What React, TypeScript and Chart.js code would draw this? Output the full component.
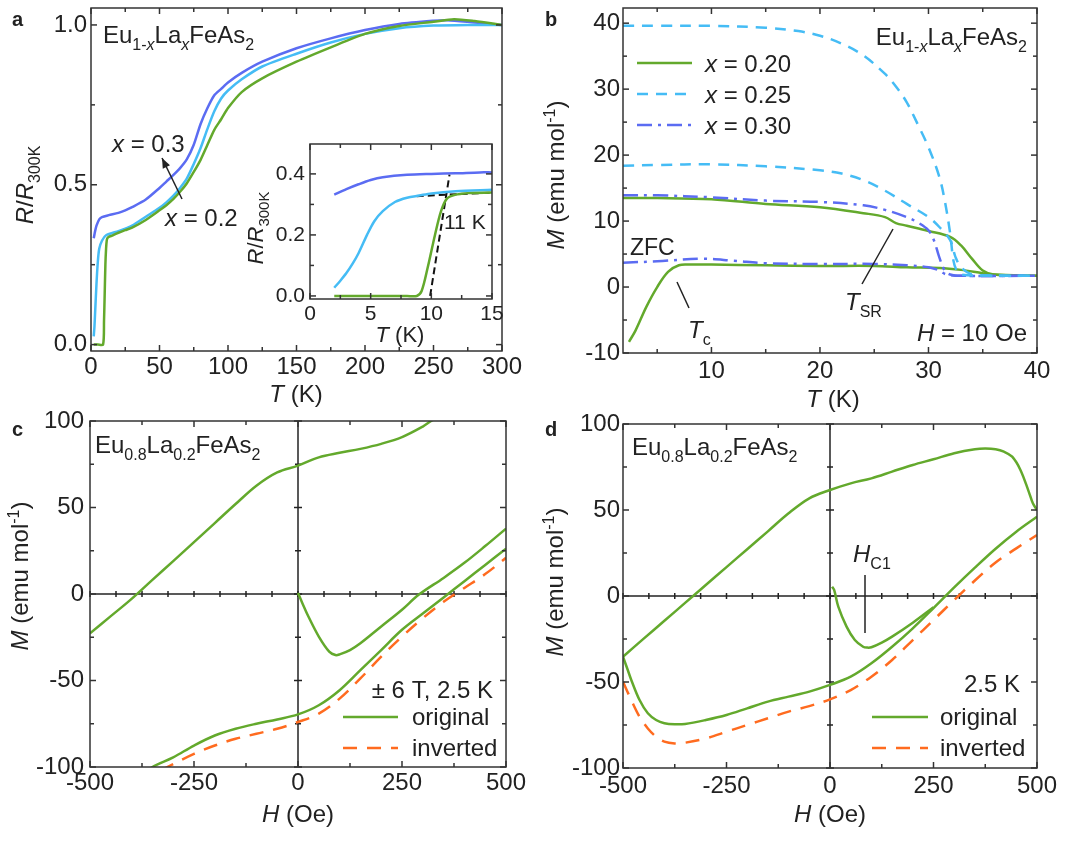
import React, { useEffect, useRef } from "react";
import { Chart, registerables } from "chart.js";
Chart.register(...registerables);

const W = 1080;
const H = 841;
const FONT = '"Liberation Sans", Arial, Helvetica, sans-serif';
const INK = "#222";
const GREEN = "#63a92c";
const LBLUE = "#45bcf5";
const BLUE = "#5b6cf2";
const ORANGE = "#ff6b1f";

// ---------------- Panel a: R/R300K vs T ----------------
const aT_x030 = [2, 3, 4, 6, 8, 13, 20, 25, 30, 40, 50, 55, 60, 65, 70, 75, 80, 85, 90, 95, 100, 110, 125, 150, 175, 200, 225, 250, 260, 275, 290, 300];
const aR_x030 = [0.333, 0.355, 0.372, 0.392, 0.399, 0.405, 0.412, 0.42, 0.43, 0.454, 0.49, 0.51, 0.53, 0.552, 0.58, 0.625, 0.69, 0.74, 0.78, 0.8, 0.82, 0.85, 0.885, 0.927, 0.958, 0.984, 1.003, 1.013, 1.015, 1.01, 1.003, 1.0];
const aT_x025 = [2, 2.5, 3, 4, 5, 6, 8, 11, 20, 25, 30, 40, 50, 55, 60, 65, 70, 75, 80, 85, 90, 95, 100, 110, 125, 150, 175, 200, 225, 250, 275, 300];
const aR_x025 = [0.026, 0.055, 0.1, 0.19, 0.26, 0.3, 0.325, 0.342, 0.355, 0.363, 0.372, 0.4, 0.428, 0.445, 0.465, 0.49, 0.52, 0.565, 0.615, 0.675, 0.73, 0.77, 0.795, 0.83, 0.87, 0.91, 0.945, 0.972, 0.99, 0.998, 1.0, 1.0];
const aT_x020 = [2, 5, 8.8, 9.5, 10, 10.5, 11, 11.5, 12, 13, 15, 20, 25, 30, 40, 50, 55, 60, 65, 70, 75, 80, 85, 90, 95, 100, 110, 125, 150, 175, 200, 225, 250, 265, 280, 300];
const aR_x020 = [0, 0, 0, 0.074, 0.16, 0.25, 0.3, 0.326, 0.333, 0.337, 0.34, 0.35, 0.358, 0.366, 0.39, 0.42, 0.436, 0.455, 0.478, 0.505, 0.54, 0.578, 0.625, 0.672, 0.705, 0.74, 0.79, 0.833, 0.885, 0.93, 0.972, 0.997, 1.01, 1.018, 1.012, 1.0];
const aXTicks = [0, 50, 100, 150, 200, 250, 300];
const aYTicks = [0, 0.5, 1.0];

// inset of panel a
const iT_x030 = [2, 3, 4, 5, 6, 8, 10, 12, 14, 15];
const iR_x030 = [0.332, 0.35, 0.366, 0.38, 0.389, 0.397, 0.4, 0.402, 0.405, 0.405];
const iT_x025 = [2, 2.5, 3, 3.5, 4, 4.7, 5.3, 6, 7, 8, 9, 10, 12, 15];
const iR_x025 = [0.027, 0.05, 0.075, 0.105, 0.14, 0.2, 0.245, 0.278, 0.308, 0.322, 0.329, 0.336, 0.343, 0.348];
const iT_x020 = [2, 4, 6, 8, 8.8, 9.2, 9.7, 10.3, 10.8, 11.3, 12, 12.5, 13, 15];
const iR_x020 = [0, 0, 0, 0, 0, 0.016, 0.093, 0.2, 0.278, 0.32, 0.332, 0.335, 0.337, 0.339];
const iFitFlatT = [8.8, 15];
const iFitFlatR = [0.327, 0.339];
const iFitSlopeT = [9.9, 11.5];
const iFitSlopeR = [0.0, 0.398];
const iXTicks = [0, 5, 10, 15];
const iYTicks = [0, 0.2, 0.4];

// ---------------- Panel b: M vs T ----------------
const bT_x025_a = [1.85, 5, 10, 15, 18, 20, 22, 24, 26, 27, 28, 29, 30, 31, 31.5, 32, 32.3, 32.6, 33, 35, 40];
const bM_x025_a = [39.6, 39.6, 39.6, 39.3, 38.8, 38.1, 36.9, 35.1, 32.3, 30.4, 28, 24.7, 21.2, 16.7, 13.1, 8.1, 4, 2.5, 1.9, 1.75, 1.7];
const bT_x025_b = [1.85, 5, 10, 15, 20, 22, 24, 26, 28, 30, 31, 32, 32.5, 33, 34, 36, 40];
const bM_x025_b = [18.4, 18.5, 18.6, 18.3, 17.7, 17.2, 16.2, 14.6, 12.6, 10.6, 9.1, 7.1, 4.5, 3, 1.9, 1.75, 1.7];
const bT_x030_fc = [1.85, 5, 10, 15, 20, 24, 26, 28, 29, 30, 30.5, 31, 31.5, 32, 33, 40];
const bM_x030_fc = [13.9, 13.9, 13.6, 13.1, 12.9, 12.4, 11.7, 10.6, 9.8, 8.6, 7.1, 4.5, 2.5, 1.9, 1.7, 1.7];
const bT_x030_zfc = [1.85, 5, 9, 12, 15, 20, 25, 28, 30, 31, 31.5, 32, 33, 40];
const bM_x030_zfc = [3.7, 3.9, 4.3, 4.0, 3.6, 3.5, 3.5, 3.3, 3.0, 2.5, 2.0, 1.8, 1.7, 1.7];
const bT_x020_fc = [1.85, 5, 10, 15, 20, 24, 26, 27, 28, 30, 32, 33, 34, 35, 36, 40];
const bM_x020_fc = [13.5, 13.5, 13.3, 12.6, 12.1, 11.2, 10.6, 9.7, 9.3, 8.5, 7.6, 6.3, 4.3, 2.5, 1.9, 1.7];
const bT_x020_zfc = [2.4, 3, 4, 5, 6, 7, 8, 10, 15, 20, 25, 28, 31, 33, 35, 36, 40];
const bM_x020_zfc = [-8.3, -6.6, -3, 0, 2.3, 3.3, 3.4, 3.4, 3.3, 3.2, 3.2, 3.0, 2.9, 2.6, 2.1, 1.9, 1.7];
const bXTicks = [10, 20, 30, 40];
const bYTicks = [-10, 0, 10, 20, 30, 40];
const bLegend = ["0.20", "0.25", "0.30"];

// ---------------- Panel c: M vs H (±6 T loop) ----------------
const cH_down = [350, 320, 300, 250, 200, 150, 100, 50, 0, -50, -100, -150, -200, -250, -300, -350, -400, -450, -500];
const cM_down = [104, 100, 96.8, 90.7, 86.8, 83.9, 81.6, 79, 74.2, 70.3, 62.6, 52, 41, 30, 19, 8.2, -2.8, -12.8, -22.7];
const cH_up = [-370, -350, -300, -250, -200, -150, -100, -50, 0, 50, 100, 150, 200, 250, 300, 350, 400, 450, 500];
const cM_up = [-104, -100, -94.4, -87.6, -81.8, -77.9, -75, -72.5, -69.6, -64.3, -55.6, -44, -32.4, -20.7, -11.3, -2, 7.4, 16.8, 26.2];
const cH_virgin = [0, 10, 25, 50, 75, 90, 100, 125, 150, 200, 250, 290, 350, 400, 450, 500];
const cM_virgin = [0.6, -5, -13, -24.6, -33.3, -35.3, -34.9, -32.4, -28.5, -18.8, -9.1, -0.5, 9.3, 18, 27.7, 37.8];
const cH_inv = [-330, -300, -250, -200, -150, -100, -50, 0, 50, 100, 150, 200, 250, 300, 350, 400, 450, 500];
const cM_inv = [-102, -98.3, -92.4, -87.6, -83.7, -80.8, -77.9, -74, -69.2, -60.5, -48.8, -36.2, -24.6, -14, -4.5, 3.5, 11.5, 20.9];

// ---------------- Panel d: M vs H (±500 Oe loop) ----------------
const dH_down = [500, 490, 480, 460, 440, 420, 400, 375, 350, 300, 250, 200, 150, 100, 50, 0, -50, -100, -150, -200, -250, -300, -350, -400, -450, -500];
const dM_down = [50, 53.9, 60.7, 73.3, 81, 83.9, 85.3, 85.7, 85.3, 83, 79.5, 76.2, 72.3, 68.4, 65.5, 61.6, 56.8, 48.1, 37.6, 27.2, 16.8, 6.4, -4, -14.4, -24.8, -35.3];
const dH_up = [-500, -490, -480, -460, -440, -420, -400, -375, -350, -300, -250, -200, -150, -100, -50, 0, 50, 100, 150, 200, 250, 300, 350, 400, 450, 500];
const dM_up = [-35.3, -42, -48.8, -60.5, -68.2, -72.1, -74, -74.6, -74.4, -72.1, -69.2, -65.3, -61.4, -58.5, -55.6, -51.7, -46.9, -39.1, -29.5, -18.8, -7, 5, 16.5, 27.5, 37.4, 46.1];
const dH_virgin = [5, 10, 20, 40, 60, 80, 90, 100, 125, 150, 200, 250];
const dM_virgin = [5.4, 3.5, -6.2, -17.8, -25.6, -29.5, -30, -29.8, -27.1, -23.6, -15.5, -6.5];
const dH_inv = [-500, -480, -460, -440, -420, -400, -375, -350, -300, -250, -200, -150, -100, -50, 0, 50, 100, 150, 200, 250, 300, 350, 400, 450, 500];
const dM_inv = [-49.8, -60.5, -70.2, -77, -81.8, -84.7, -85.7, -85.3, -82.8, -78.9, -75, -71.1, -67.2, -64, -60.1, -54.7, -46.9, -37.2, -25.6, -14, -2.3, 9, 19.5, 27.7, 35.5];
const hXTicks = [-500, -250, 0, 250, 500];
const hYTicks = [-100, -50, 0, 50, 100];

// ---------------- helpers ----------------
const steps = (a: number, b: number, s: number) => {
  const out: number[] = [];
  for (let v = a; v <= b + 1e-9; v += s) out.push(+v.toFixed(6));
  return out;
};

type Run = { t: string; i?: boolean; sub?: boolean; sup?: boolean; b?: boolean };

function rich(ctx: CanvasRenderingContext2D, runs: Run[], x: number, y: number, size: number, align: "left" | "center" | "right" = "left") {
  const fontFor = (r: Run) =>
    `${r.i ? "italic " : ""}${r.b ? "bold " : ""}${r.sub || r.sup ? Math.round(size * 0.68) : size}px ${FONT}`;
  let w = 0;
  for (const r of runs) {
    ctx.font = fontFor(r);
    w += ctx.measureText(r.t).width;
  }
  let cx = align === "left" ? x : align === "center" ? x - w / 2 : x - w;
  ctx.textAlign = "left";
  ctx.textBaseline = "alphabetic";
  ctx.fillStyle = INK;
  for (const r of runs) {
    ctx.font = fontFor(r);
    const dy = r.sub ? size * 0.28 : r.sup ? -size * 0.38 : 0;
    ctx.fillText(r.t, cx, y + dy);
    cx += ctx.measureText(r.t).width;
  }
}

function rotRich(ctx: CanvasRenderingContext2D, runs: Run[], bx: number, cy: number, size: number) {
  ctx.save();
  ctx.translate(bx, cy);
  ctx.rotate(-Math.PI / 2);
  rich(ctx, runs, 0, 0, size, "center");
  ctx.restore();
}

function seg(ctx: CanvasRenderingContext2D, x1: number, y1: number, x2: number, y2: number, color = INK, w = 1.5, dash: number[] = []) {
  ctx.save();
  ctx.strokeStyle = color;
  ctx.lineWidth = w;
  ctx.setLineDash(dash);
  ctx.beginPath();
  ctx.moveTo(x1, y1);
  ctx.lineTo(x2, y2);
  ctx.stroke();
  ctx.restore();
}

function line(xs: number[], ys: number[], color: string, dash: number[] = [], width = 2.5, tension = 0.35) {
  return {
    data: xs.map((x, i) => ({ x, y: ys[i] })),
    showLine: true,
    borderColor: color,
    backgroundColor: color,
    borderWidth: width,
    borderDash: dash,
    pointRadius: 0,
    tension,
    fill: false,
  };
}

const EU_X: Run[] = [{ t: "Eu" }, { t: "1-", sub: true }, { t: "x", sub: true, i: true }, { t: "La" }, { t: "x", sub: true, i: true }, { t: "FeAs" }, { t: "2", sub: true }];
const EU_08: Run[] = [{ t: "Eu" }, { t: "0.8", sub: true }, { t: "La" }, { t: "0.2", sub: true }, { t: "FeAs" }, { t: "2", sub: true }];
const R_TITLE: Run[] = [{ t: "R", i: true }, { t: "/" }, { t: "R", i: true }, { t: "300K", sub: true }];
const M_TITLE: Run[] = [{ t: "M", i: true }, { t: " (emu mol" }, { t: "-1", sup: true }, { t: ")" }];
const T_TITLE: Run[] = [{ t: "T", i: true }, { t: " (K)" }];
const H_TITLE: Run[] = [{ t: "H", i: true }, { t: " (Oe)" }];

const DASH_LB = [11, 8];
const DASH_BL = [15, 6, 3, 6];
const DASH_OR = [14, 10];

const TXT = 24;

interface PanelCfg {
  box: { l: number; r: number; t: number; b: number };
  xr: [number, number];
  yr: [number, number];
  xTicks: number[];
  yTicks: number[];
  xMinor: number[];
  yMinor: number[];
  xFmt: (v: number) => string;
  yFmt: (v: number) => string;
  tickSize: number;
  xPad: number;
  yPad: number;
  datasets: any[];
  white?: boolean;
  zero?: boolean;
  draw?: (ctx: CanvasRenderingContext2D, chart: any) => void;
}

function makeChart(canvas: HTMLCanvasElement, cfg: PanelCfg) {
  const yW = 80;
  const xH = 40;
  const { l, r, t, b } = cfg.box;
  const plugin = {
    id: "frameDeco",
    beforeDatasetsDraw(chart: any) {
      const { ctx, chartArea: ca, scales } = chart;
      ctx.save();
      if (cfg.white) {
        ctx.fillStyle = "#fff";
        ctx.fillRect(ca.left, ca.top, ca.right - ca.left, ca.bottom - ca.top);
      }
      if (cfg.zero) {
        const x0 = scales.x.getPixelForValue(0);
        const y0 = scales.y.getPixelForValue(0);
        seg(ctx, ca.left, y0, ca.right, y0, INK, 1.5);
        seg(ctx, x0, ca.top, x0, ca.bottom, INK, 1.5);
        for (const v of steps(cfg.xr[0], cfg.xr[1], 62.5)) {
          const px = scales.x.getPixelForValue(v);
          seg(ctx, px, y0 - 3, px, y0 + 3, INK, 1.5);
        }
        for (const v of steps(cfg.yr[0], cfg.yr[1], 25)) {
          const py = scales.y.getPixelForValue(v);
          const len = v % 50 === 0 ? 4 : 3;
          seg(ctx, x0 - len, py, x0 + len, py, INK, 1.5);
        }
      }
      ctx.restore();
    },
    afterDatasetsDraw(chart: any) {
      const { ctx, chartArea: ca, scales } = chart;
      ctx.save();
      ctx.strokeStyle = "#333";
      ctx.lineWidth = 1.5;
      ctx.strokeRect(ca.left, ca.top, ca.right - ca.left, ca.bottom - ca.top);
      const tickX = (vals: number[], len: number) => {
        for (const v of vals) {
          const px = scales.x.getPixelForValue(v);
          if (px < ca.left - 0.5 || px > ca.right + 0.5) continue;
          seg(ctx, px, ca.bottom, px, ca.bottom - len, "#333", 1.5);
          seg(ctx, px, ca.top, px, ca.top + len, "#333", 1.5);
        }
      };
      const tickY = (vals: number[], len: number) => {
        for (const v of vals) {
          const py = scales.y.getPixelForValue(v);
          if (py < ca.top - 0.5 || py > ca.bottom + 0.5) continue;
          seg(ctx, ca.left, py, ca.left + len, py, "#333", 1.5);
          seg(ctx, ca.right, py, ca.right - len, py, "#333", 1.5);
        }
      };
      tickX(cfg.xMinor, 4);
      tickX(cfg.xTicks, 6);
      tickY(cfg.yMinor, 4);
      tickY(cfg.yTicks, 6);
      ctx.restore();
      if (cfg.draw) {
        ctx.save();
        cfg.draw(ctx, chart);
        ctx.restore();
      }
    },
  };
  const tickFont = { family: FONT, size: cfg.tickSize };
  return new Chart(canvas, {
    type: "scatter",
    data: { datasets: cfg.datasets },
    options: {
      animation: false,
      responsive: false,
      maintainAspectRatio: false,
      events: [],
      layout: { padding: { left: l - yW, right: W - r, top: t, bottom: H - b - xH } },
      plugins: { legend: { display: false }, tooltip: { enabled: false } },
      scales: {
        x: {
          type: "linear",
          position: "bottom",
          min: cfg.xr[0],
          max: cfg.xr[1],
          grid: { display: false, drawTicks: false },
          border: { display: false },
          afterBuildTicks: (s: any) => {
            s.ticks = cfg.xTicks.map((v) => ({ value: v }));
          },
          afterFit: (s: any) => {
            s.height = xH;
            s.paddingLeft = 0;
            s.paddingRight = 0;
            s.paddingTop = 0;
            s.paddingBottom = 0;
          },
          ticks: {
            autoSkip: false,
            maxRotation: 0,
            minRotation: 0,
            padding: cfg.xPad,
            color: INK,
            font: tickFont,
            callback: (v: any) => cfg.xFmt(Number(v)),
          },
        },
        y: {
          type: "linear",
          position: "left",
          min: cfg.yr[0],
          max: cfg.yr[1],
          grid: { display: false, drawTicks: false },
          border: { display: false },
          afterBuildTicks: (s: any) => {
            s.ticks = cfg.yTicks.map((v) => ({ value: v }));
          },
          afterFit: (s: any) => {
            s.width = yW;
            s.paddingLeft = 0;
            s.paddingRight = 0;
            s.paddingTop = 0;
            s.paddingBottom = 0;
          },
          ticks: {
            autoSkip: false,
            padding: cfg.yPad,
            color: INK,
            font: tickFont,
            callback: (v: any) => cfg.yFmt(Number(v)),
          },
        },
      },
    } as any,
    plugins: [plugin],
  } as any);
}

function arrow(ctx: CanvasRenderingContext2D, x1: number, y1: number, x2: number, y2: number) {
  seg(ctx, x1, y1, x2, y2, INK, 1.5);
  const a = Math.atan2(y2 - y1, x2 - x1);
  const L = 10;
  const Wd = 4;
  ctx.fillStyle = INK;
  ctx.beginPath();
  ctx.moveTo(x2, y2);
  ctx.lineTo(x2 - L * Math.cos(a) + Wd * Math.sin(a), y2 - L * Math.sin(a) - Wd * Math.cos(a));
  ctx.lineTo(x2 - L * Math.cos(a) - Wd * Math.sin(a), y2 - L * Math.sin(a) + Wd * Math.cos(a));
  ctx.closePath();
  ctx.fill();
}

const fmt1 = (v: number) => v.toFixed(1);
const fmt0 = (v: number) => String(Math.round(v));

const panelA: PanelCfg = {
  box: { l: 91, r: 502, t: 8, b: 351 },
  xr: [0, 300],
  yr: [-0.02, 1.053],
  xTicks: aXTicks,
  yTicks: aYTicks,
  xMinor: steps(25, 275, 50),
  yMinor: [0.25, 0.75],
  xFmt: fmt0,
  yFmt: fmt1,
  tickSize: 24,
  xPad: 2,
  yPad: 4,
  datasets: [
    line(aT_x020, aR_x020, GREEN, [], 2.5, 0.25),
    line(aT_x025, aR_x025, LBLUE, [], 2.5, 0.25),
    line(aT_x030, aR_x030, BLUE, [], 2.5, 0.25),
  ],
  draw: (ctx) => {
    rich(ctx, [{ t: "a", b: true }], 12, 26, 20);
    rich(ctx, EU_X, 103, 43, TXT);
    rich(ctx, [{ t: "x", i: true }, { t: " = 0.3" }], 112, 152, TXT);
    rich(ctx, [{ t: "x", i: true }, { t: " = 0.2" }], 165, 226, TXT);
    arrow(ctx, 182, 199, 162, 158);
    rich(ctx, T_TITLE, 296, 402, TXT, "center");
    rotRich(ctx, R_TITLE, 33, 185, TXT);
  },
};

const panelInset: PanelCfg = {
  box: { l: 310, r: 492, t: 144, b: 299 },
  xr: [0, 15],
  yr: [-0.01, 0.498],
  xTicks: iXTicks,
  yTicks: iYTicks,
  xMinor: [2.5, 7.5, 12.5],
  yMinor: [0.1, 0.3],
  xFmt: fmt0,
  yFmt: fmt1,
  tickSize: 21,
  xPad: 3,
  yPad: 5,
  white: true,
  datasets: [
    line(iT_x020, iR_x020, GREEN, [], 2.5, 0.3),
    line(iT_x025, iR_x025, LBLUE, [], 2.5, 0.3),
    line(iT_x030, iR_x030, BLUE, [], 2.5, 0.3),
    line(iFitFlatT, iFitFlatR, "#111", [7, 4], 2, 0),
    line(iFitSlopeT, iFitSlopeR, "#111", [7, 4], 2, 0),
  ],
  draw: (ctx) => {
    rich(ctx, [{ t: "11 K" }], 444, 229, 21);
    rich(ctx, T_TITLE, 400, 342, 22, "center");
    rotRich(ctx, R_TITLE, 263, 228, 22);
  },
};

const panelB: PanelCfg = {
  box: { l: 623, r: 1037, t: 8, b: 353 },
  xr: [1.85, 40],
  yr: [-10, 42.3],
  xTicks: bXTicks,
  yTicks: bYTicks,
  xMinor: [5, 15, 25, 35],
  yMinor: steps(-5, 35, 10),
  xFmt: fmt0,
  yFmt: fmt0,
  tickSize: 24,
  xPad: 4,
  yPad: 3,
  datasets: [
    line(bT_x025_a, bM_x025_a, LBLUE, DASH_LB),
    line(bT_x025_b, bM_x025_b, LBLUE, DASH_LB),
    line(bT_x030_fc, bM_x030_fc, BLUE, DASH_BL),
    line(bT_x030_zfc, bM_x030_zfc, BLUE, DASH_BL),
    line(bT_x020_fc, bM_x020_fc, GREEN),
    line(bT_x020_zfc, bM_x020_zfc, GREEN),
  ],
  draw: (ctx) => {
    rich(ctx, [{ t: "b", b: true }], 545, 26, 20);
    rich(ctx, EU_X, 1027, 45, TXT, "right");
    const cols = [GREEN, LBLUE, BLUE];
    const dashes = [[], DASH_LB, DASH_BL];
    const ys = [63, 94, 125];
    bLegend.forEach((lab, i) => {
      seg(ctx, 637, ys[i], 692, ys[i], cols[i], 2.5, dashes[i]);
      rich(ctx, [{ t: "x", i: true }, { t: " = " + lab }], 705, ys[i] + 8.5, TXT);
    });
    rich(ctx, [{ t: "ZFC" }], 630, 255, 23);
    seg(ctx, 677, 282, 689, 308, INK, 1.5);
    rich(ctx, [{ t: "T", i: true }, { t: "c", sub: true }], 688, 338, TXT);
    seg(ctx, 893, 229, 862, 284, INK, 1.5);
    rich(ctx, [{ t: "T", i: true }, { t: "SR", sub: true }], 845, 310, TXT);
    rich(ctx, [{ t: "H", i: true }, { t: " = 10 Oe" }], 1027, 341, TXT, "right");
    rich(ctx, T_TITLE, 833, 407, TXT, "center");
    rotRich(ctx, M_TITLE, 564, 175, TXT);
  },
};

const panelC: PanelCfg = {
  box: { l: 90, r: 506, t: 421, b: 767 },
  xr: [-500, 500],
  yr: [-100, 100],
  xTicks: hXTicks,
  yTicks: hYTicks,
  xMinor: [-375, -125, 125, 375],
  yMinor: [-75, -25, 25, 75],
  xFmt: fmt0,
  yFmt: fmt0,
  tickSize: 24,
  xPad: 2,
  yPad: 6,
  zero: true,
  datasets: [
    line(cH_inv, cM_inv, ORANGE, DASH_OR),
    line(cH_down, cM_down, GREEN),
    line(cH_up, cM_up, GREEN),
    line(cH_virgin, cM_virgin, GREEN),
  ],
  draw: (ctx) => {
    rich(ctx, [{ t: "c", b: true }], 12, 436, 20);
    rich(ctx, EU_08, 95, 453, TXT);
    rich(ctx, [{ t: "± 6 T, 2.5 K" }], 493, 698, TXT, "right");
    seg(ctx, 343, 717, 398, 717, GREEN, 2.5);
    rich(ctx, [{ t: "original" }], 412, 725, TXT);
    seg(ctx, 343, 748, 398, 748, ORANGE, 2.5, DASH_OR);
    rich(ctx, [{ t: "inverted" }], 412, 756, TXT);
    rich(ctx, H_TITLE, 298, 822, TXT, "center");
    rotRich(ctx, M_TITLE, 28, 576, TXT);
  },
};

const panelD: PanelCfg = {
  box: { l: 623, r: 1037, t: 424, b: 768 },
  xr: [-500, 500],
  yr: [-100, 100],
  xTicks: hXTicks,
  yTicks: hYTicks,
  xMinor: [-375, -125, 125, 375],
  yMinor: [-75, -25, 25, 75],
  xFmt: fmt0,
  yFmt: fmt0,
  tickSize: 24,
  xPad: 4,
  yPad: 3,
  zero: true,
  datasets: [
    line(dH_inv, dM_inv, ORANGE, DASH_OR),
    line(dH_down, dM_down, GREEN),
    line(dH_up, dM_up, GREEN),
    line(dH_virgin, dM_virgin, GREEN),
  ],
  draw: (ctx) => {
    rich(ctx, [{ t: "d", b: true }], 545, 436, 20);
    rich(ctx, EU_08, 632, 455, TXT);
    rich(ctx, [{ t: "H", i: true }, { t: "C1", sub: true }], 853, 562, TXT);
    seg(ctx, 865, 575, 865, 633, INK, 1.5);
    rich(ctx, [{ t: "2.5 K" }], 1020, 692, TXT, "right");
    seg(ctx, 872, 717, 928, 717, GREEN, 2.5);
    rich(ctx, [{ t: "original" }], 940, 725, TXT);
    seg(ctx, 872, 748, 928, 748, ORANGE, 2.5, DASH_OR);
    rich(ctx, [{ t: "inverted" }], 940, 756, TXT);
    rich(ctx, H_TITLE, 830, 822, TXT, "center");
    rotRich(ctx, M_TITLE, 563, 582, TXT);
  },
};

function Panel({ cfg }: { cfg: PanelCfg }) {
  const ref = useRef<HTMLCanvasElement>(null);
  useEffect(() => {
    const chart = makeChart(ref.current as HTMLCanvasElement, cfg);
    return () => chart.destroy();
  }, [cfg]);
  return (
    <canvas
      ref={ref}
      width={W}
      height={H}
      style={{ position: "absolute", left: 0, top: 0, width: W, height: H }}
    />
  );
}

export default function App() {
  return (
    <div style={{ position: "absolute", left: 0, top: 0, width: W, height: H, background: "#fff", overflow: "hidden" }}>
      <Panel cfg={panelA} />
      <Panel cfg={panelInset} />
      <Panel cfg={panelB} />
      <Panel cfg={panelC} />
      <Panel cfg={panelD} />
    </div>
  );
}
